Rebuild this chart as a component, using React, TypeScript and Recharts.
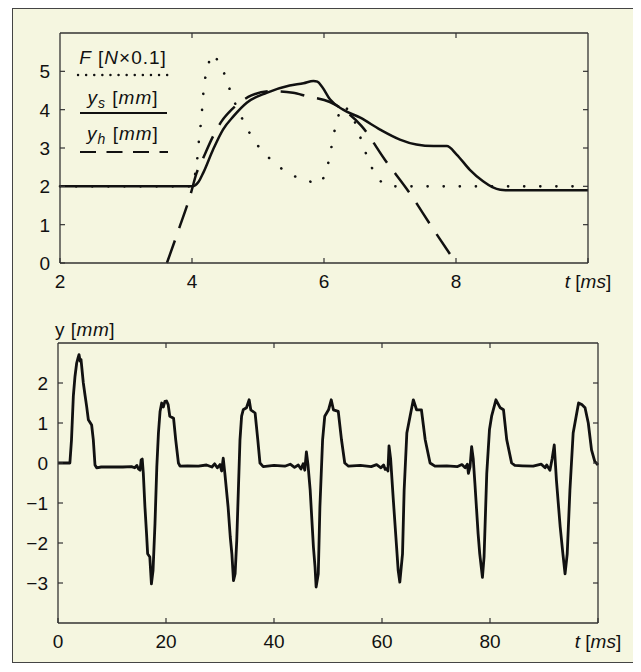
import { LineChart, Line, XAxis, YAxis } from 'recharts';

// top panel: force (dotted), y_s (solid), y_h (dashed), t in ms
const forceT = [2, 4.0, 4.06, 4.09, 4.11, 4.14, 4.16, 4.18, 4.23, 4.3, 4.37, 4.44, 4.53, 4.61, 4.71, 4.82, 4.94, 5.1, 5.28, 5.48, 5.71, 5.91, 5.97, 6.04, 6.1, 6.14, 6.2, 6.28, 6.36, 6.44, 6.53, 6.61, 6.7, 6.82, 6.92, 7.02, 10];
const forceV = [2, 2.0, 2.46, 2.89, 3.31, 3.73, 4.17, 4.59, 5.01, 5.45, 5.33, 5.15, 4.74, 4.34, 3.95, 3.56, 3.2, 2.86, 2.57, 2.32, 2.18, 2.07, 2.15, 2.45, 2.9, 3.29, 3.72, 4.1, 4.0, 3.79, 3.38, 2.98, 2.58, 2.21, 2.05, 2.0, 2.0];

const ysT = [2, 4.0, 4.05, 4.1, 4.17, 4.32, 4.47, 4.63, 4.83, 5.13, 5.48, 5.69, 5.84, 5.9, 5.97, 6.09, 6.29, 6.55, 6.85, 7.15, 7.4, 7.66, 7.86, 8.01, 8.21, 8.41, 8.55, 8.67, 8.75, 10];
const ysV = [2, 2, 2.03, 2.12, 2.35, 2.96, 3.48, 3.83, 4.18, 4.44, 4.63, 4.69, 4.75, 4.73, 4.6, 4.27, 4.0, 3.79, 3.48, 3.22, 3.09, 3.05, 3.05, 2.83, 2.43, 2.13, 1.98, 1.91, 1.9, 1.9];

const yhT = [3.62, 3.8, 3.97, 4.07, 4.17, 4.32, 4.45, 4.6, 4.75, 4.9, 5.18, 5.53, 5.74, 6.09, 6.29, 6.57, 6.92, 7.3, 7.63, 8.0];
const yhV = [0, 0.88, 1.74, 2.35, 2.74, 3.31, 3.7, 4.0, 4.22, 4.37, 4.48, 4.44, 4.35, 4.2, 4.0, 3.57, 2.7, 1.82, 0.95, 0];

// bottom panel: displacement y over 100 ms
const dispT = [
  0, 2.2, 2.5, 2.84, 3.15, 3.46, 3.7, 3.89, 4.1, 4.26, 4.69, 5.0, 5.31, 5.62, 6.23, 6.54, 6.85, 7.16, 8, 10, 12, 13.6, 14.2, 14.6, 14.9, 15.2, 15.4, 15.6, 15.8,
  16.1, 16.4, 16.6, 17.0, 17.3, 17.6, 17.96, 18.3, 18.6, 18.9, 19.2, 19.5, 19.8, 20.1, 20.4, 20.7, 21.4, 21.8, 22.3, 22.6,
  24, 26, 27.5, 28.5, 29, 29.5, 30, 30.3, 30.6, 30.9, 31.5, 31.9, 32.2, 32.5, 32.8, 33.1, 33.4, 33.7, 34.0, 34.3, 34.9, 35.4, 35.7, 36.5, 37.0, 37.4, 38.0,
  40, 42, 43, 43.8, 44.5, 45, 45.4, 45.7, 46.0, 46.3, 46.7, 47.3, 47.6, 47.8, 48.2, 48.5, 49.0, 49.4, 50.1, 50.6, 51.0, 51.9, 52.5, 53.1, 53.8,
  56, 58, 59, 59.8, 60.3, 60.6, 60.9, 61.1, 61.3, 61.6, 62.1, 62.7, 63.0, 63.3, 63.8, 64.1, 64.6, 65.2, 65.8, 66.4, 67.3, 68.0, 68.9, 69.8,
  72, 74, 74.8, 75.4, 75.8, 76.0, 76.3, 76.6, 76.9, 77.2, 77.8, 78.1, 78.6, 78.9, 79.4, 79.9, 80.3, 81.1, 81.9, 82.5, 83.1, 84.0, 84.6,
  86, 88, 89.5, 90.2, 90.5, 91.1, 91.5, 91.9, 92.3, 93.0, 93.5, 93.9, 94.3, 94.8, 95.4, 96.4, 97.0, 97.6, 98.2, 98.8, 99.4, 100,
];
const dispV = [
  0, 0, 0.58, 1.67, 2.17, 2.5, 2.62, 2.71, 2.55, 2.59, 2.0, 1.7, 1.41, 1.08, 0.95, 0.58, -0.05, -0.12, -0.1, -0.1, -0.1, -0.09, -0.12, -0.06, -0.15, -0.18, 0.08, 0.1, -0.26,
  -1.1, -1.77, -2.27, -2.35, -3.02, -2.69, -1.52, -0.09, 0.75, 1.29, 1.5, 1.4, 1.54, 1.55, 1.46, 1.17, 1.12, 0.58, 0, -0.08,
  -0.07, -0.08, -0.05, -0.1, -0.02, -0.12, -0.04, -0.2, 0.12, -0.26, -1.1, -1.85, -2.27, -2.94, -2.77, -1.94, -0.68, 0.58, 1.17, 1.33, 1.38, 1.58, 1.33, 1.25, 0.58, 0, -0.09,
  -0.06, -0.08, -0.03, -0.11, -0.05, -0.15, -0.02, -0.18, 0.28, -0.05, -0.68, -2.1, -2.6, -3.1, -2.77, -1.1, 0.58, 1.17, 1.33, 1.58, 1.33, 1.29, 0.58, 0, -0.08,
  -0.06, -0.09, -0.04, -0.12, -0.05, -0.16, -0.14, -0.2, 0.43, 0.1, -0.93, -2.1, -2.69, -2.98, -2.27, -0.68, 0.75, 1.17, 1.58, 1.33, 1.33, 0.58, 0, -0.08,
  -0.07, -0.09, -0.04, -0.12, -0.03, -0.26, -0.1, 0.41, 0.1, -0.5, -1.77, -2.27, -2.86, -2.35, -0.26, 0.83, 1.17, 1.58, 1.38, 1.33, 0.58, 0, -0.06,
  -0.07, -0.08, -0.03, -0.12, -0.05, -0.18, 0.1, 0.45, -0.43, -1.6, -2.27, -2.77, -2.27, -0.68, 0.75, 1.5, 1.46, 1.38, 1.0, 0.33, 0.04, -0.05,
];

const topXTicks = [2, 4, 6, 8, 10];
const topYTicks = [0, 1, 2, 3, 4, 5];
const botXTicks = [0, 20, 40, 60, 80, 100];
const botYTicks = [-3, -2, -1, 0, 1, 2];

const BG = '#f5f6e0';
const INK = '#111';
const AXIS = '#333';
const FONT = '"Liberation Sans", Arial, sans-serif';
const FS = 19;
const TICK = 5;

const zip = (ts: number[], vs: number[]) => ts.map((t, i) => ({ t, v: vs[i] }));

const forceData = zip(forceT, forceV);
const ysData = zip(ysT, ysV);
const yhData = zip(yhT, yhV);
const dispData = zip(dispT, dispV);

const minus = (v: number) => String(v).replace('-', '\u2212');

// ticks point into the plot, like the matlab box
function BottomTick(props: any) {
  const { x, y, payload, last } = props;
  const common = { x, y: y + 12, dy: '0.71em', textAnchor: 'middle' as const, fontSize: FS, fontFamily: FONT, fill: INK };
  return (
    <g>
      <line x1={x} x2={x} y1={y} y2={y - TICK} stroke={AXIS} strokeWidth={1.2} />
      {payload.value === last ? (
        <text {...common}>
          <tspan fontStyle="italic">t</tspan>
          {' ['}
          <tspan fontStyle="italic">ms</tspan>
          {']'}
        </text>
      ) : (
        <text {...common}>{minus(payload.value)}</text>
      )}
    </g>
  );
}

function LeftTick(props: any) {
  const { x, y, payload } = props;
  return (
    <g>
      <line x1={x} x2={x + TICK} y1={y} y2={y} stroke={AXIS} strokeWidth={1.2} />
      <text x={x - 10} y={y} dy="0.36em" textAnchor="end" fontSize={FS} fontFamily={FONT} fill={INK}>
        {minus(payload.value)}
      </text>
    </g>
  );
}

const TopTick = (props: any) => <line x1={props.x} x2={props.x} y1={props.y} y2={props.y + TICK} stroke={AXIS} strokeWidth={1.2} />;
const RightTick = (props: any) => <line x1={props.x - TICK} x2={props.x} y1={props.y} y2={props.y} stroke={AXIS} strokeWidth={1.2} />;

function TopLegend() {
  const txt = { fontSize: FS, fontFamily: FONT, fill: INK, textAnchor: 'middle' as const, letterSpacing: 1 };
  return (
    <svg width={633} height={300} style={{ position: 'absolute', left: 0, top: 0, pointerEvents: 'none' }}>
      <text x={115} y={56} {...txt}>
        <tspan fontStyle="italic">F</tspan>
        {' ['}
        <tspan fontStyle="italic">N</tspan>
        {'\u00d70.1]'}
      </text>
      <line x1={70} x2={160} y1={67} y2={67} stroke={INK} strokeWidth={2.4} strokeDasharray="0.1 8" strokeLinecap="round" />
      <text x={115} y={96} {...txt}>
        <tspan fontStyle="italic">y</tspan>
        <tspan fontStyle="italic" fontSize={14} dy={4}>s</tspan>
        <tspan dy={-4}>{' ['}</tspan>
        <tspan fontStyle="italic">mm</tspan>
        {']'}
      </text>
      <line x1={72} x2={159} y1={105} y2={105} stroke={INK} strokeWidth={2} />
      <text x={115} y={132} {...txt}>
        <tspan fontStyle="italic">y</tspan>
        <tspan fontStyle="italic" fontSize={14} dy={4}>h</tspan>
        <tspan dy={-4}>{' ['}</tspan>
        <tspan fontStyle="italic">mm</tspan>
        {']'}
      </text>
      <line x1={72} x2={160} y1={144} y2={144} stroke={INK} strokeWidth={2} strokeDasharray="16 10.5" />
    </svg>
  );
}

// invisible series so the mirrored top/right axes get drawn
const ghost = { stroke: 'none', dot: false, activeDot: false, legendType: 'none' as const, isAnimationActive: false };
const axisBase = { type: 'number' as const, interval: 0 as const, tickLine: false, tickSize: 0, tickMargin: 0, stroke: AXIS, strokeWidth: 1.3 };

export default function App() {
  return (
    <div style={{ position: 'relative', width: 633, height: 664 }}>
      <div
        style={{
          position: 'absolute',
          left: 4,
          top: 0,
          width: 622,
          height: 655,
          border: '1px solid #444',
          boxSizing: 'border-box',
          background: BG,
        }}
      />

      <div style={{ position: 'absolute', left: 0, top: 0 }}>
        <LineChart width={633} height={300} margin={{ top: 24, right: 52, bottom: 15, left: 0 }}>
          <XAxis xAxisId="b" dataKey="t" domain={[2, 10]} ticks={topXTicks} height={30} {...axisBase} tick={(p: any) => <BottomTick {...p} last={10} />} />
          <XAxis xAxisId="top" orientation="top" dataKey="t" domain={[2, 10]} ticks={[4, 6, 8]} height={1} {...axisBase} tick={TopTick} />
          <YAxis yAxisId="l" domain={[0, 6]} ticks={topYTicks} width={52} {...axisBase} tick={LeftTick} />
          <YAxis yAxisId="r" orientation="right" domain={[0, 6]} ticks={[1, 2, 3, 4, 5]} width={1} {...axisBase} tick={RightTick} />
          <Line xAxisId="top" yAxisId="r" data={ysData} dataKey="v" {...ghost} />
          <Line xAxisId="b" yAxisId="l" data={forceData} dataKey="v" type="monotone" stroke={INK} strokeWidth={2.6} strokeDasharray="0.1 16" strokeLinecap="round" dot={false} isAnimationActive={false} />
          <Line xAxisId="b" yAxisId="l" data={ysData} dataKey="v" type="monotone" stroke={INK} strokeWidth={2.5} dot={false} isAnimationActive={false} />
          <Line xAxisId="b" yAxisId="l" data={yhData} dataKey="v" type="monotone" stroke={INK} strokeWidth={2.5} strokeDasharray="24 13" dot={false} isAnimationActive={false} />
        </LineChart>
        <TopLegend />
      </div>

      <div style={{ position: 'absolute', left: 0, top: 300 }}>
        <LineChart width={633} height={360} margin={{ top: 34, right: 42, bottom: 15, left: 0 }}>
          <XAxis xAxisId="b" dataKey="t" domain={[0, 100]} ticks={botXTicks} height={30} {...axisBase} tick={(p: any) => <BottomTick {...p} last={100} />} />
          <XAxis xAxisId="top" orientation="top" dataKey="t" domain={[0, 100]} ticks={[20, 40, 60, 80]} height={1} {...axisBase} tick={TopTick} />
          <YAxis yAxisId="l" domain={[-4, 3]} ticks={botYTicks} width={50} {...axisBase} tick={LeftTick} />
          <YAxis yAxisId="r" orientation="right" domain={[-4, 3]} ticks={botYTicks} width={1} {...axisBase} tick={RightTick} />
          <Line xAxisId="top" yAxisId="r" data={dispData} dataKey="v" {...ghost} />
          <Line xAxisId="b" yAxisId="l" data={dispData} dataKey="v" type="linear" stroke={INK} strokeWidth={2.8} strokeLinejoin="round" dot={false} isAnimationActive={false} />
        </LineChart>
        <svg width={200} height={40} style={{ position: 'absolute', left: 0, top: 0, pointerEvents: 'none' }}>
          <text x={47} y={28} fontSize={FS} fontFamily={FONT} fill={INK} letterSpacing={0.5}>
            {'y ['}
            <tspan fontStyle="italic">mm</tspan>
            {']'}
          </text>
        </svg>
      </div>
    </div>
  );
}
